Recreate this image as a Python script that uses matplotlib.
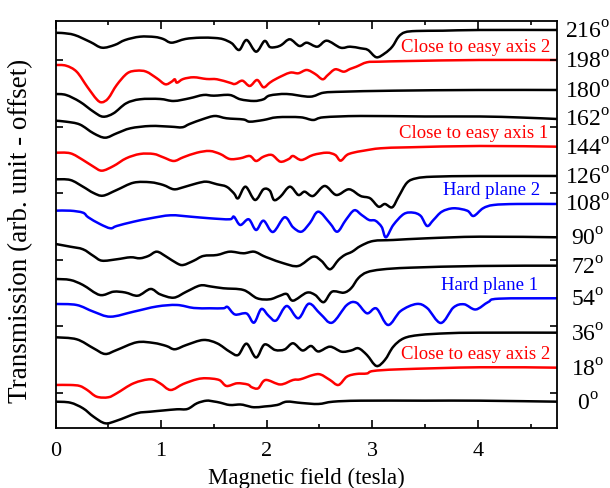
import matplotlib
matplotlib.use("Agg")
import matplotlib.pyplot as plt
from matplotlib.path import Path
from matplotlib.patches import PathPatch
from matplotlib.ticker import MultipleLocator, NullFormatter

plt.rcParams['font.family'] = ['Liberation Serif', 'DejaVu Serif']
plt.rcParams['mathtext.fontset'] = 'custom'
plt.rcParams['mathtext.rm'] = 'Liberation Serif'

# ---------------- data (field in tesla, transmission offset in arb. units) ----------------
angles = [0, 18, 36, 54, 72, 90, 108, 126, 144, 162, 180, 198, 216]
colors = ['black', 'red', 'black', 'blue', 'black', 'black', 'blue',
          'black', 'red', 'black', 'black', 'red', 'black']
offsets = [26, 60, 95, 130, 162, 191, 225, 252, 281, 310, 338, 368, 398]

B0 = [0, 0.14, 0.26, 0.36, 0.47, 0.58, 0.77, 0.90, 1.02, 1.15, 1.25, 1.34, 1.43, 1.50, 1.56,
      1.65, 1.75, 1.80, 1.88, 1.98, 2.10, 2.19, 2.33, 2.49, 2.63, 2.89, 3.5, 4.02, 4.75]
T0 = [0.3, -0.7, -6.3, -14.7, -21.3, -18.7, -11.3, -9.7, -8.5, -7.3, -7, -1.3, 1.3, 0.5, -0.7,
      -3, -2.5, -3.5, -5.3, -4.5, -3, 0.3, -1, -2, 0.3, 1.3, 1.3, 1.3, 0.3]

B18 = [0, 0.14, 0.23, 0.30, 0.39, 0.50, 0.58, 0.74, 0.90, 0.99, 1.09, 1.21, 1.34, 1.43, 1.55,
       1.62, 1.72, 1.82, 1.86, 1.92, 1.99, 2.13, 2.25, 2.32, 2.44, 2.51, 2.60, 2.68, 2.76, 2.85,
       2.95, 3.01, 3.27, 4.02, 4.75]
T18 = [-17, -17, -18, -22, -28.7, -29.3, -25.3, -15.3, -11.3, -15.3, -22, -16, -11.3, -10.3, -12,
       -18, -15.3, -16.5, -19.3, -20.3, -12, -16.5, -12, -11.3, -7, -6.5, -12, -17, -8.7, -6,
       -5.5, -3, -1.3, 0.7, 0.3]

B36 = [0, 0.20, 0.36, 0.47, 0.58, 0.77, 0.93, 1.05, 1.13, 1.24, 1.40, 1.53, 1.65, 1.73, 1.81,
       1.90, 1.98, 2.08, 2.17, 2.25, 2.34, 2.42, 2.49, 2.60, 2.71, 2.80, 2.87, 2.95, 3.04, 3.12,
       3.20, 3.30, 3.45, 3.71, 4.02, 4.75]
T36 = [-4.3, -6.3, -15.3, -21, -17, -9.3, -10, -13, -16.3, -12, -7, -10.3, -18.7, -22, -10.7,
       -24.5, -11.5, -17, -16.5, -10.3, -17.5, -13, -18.5, -13.7, -18.7, -17.5, -15.3, -22, -33, -27,
       -13.7, -5.3, -2, -0.3, 0.3, 0.3]

B54 = [0, 0.20, 0.36, 0.52, 0.74, 0.96, 1.15, 1.31, 1.46, 1.59, 1.63, 1.70, 1.81, 1.88, 1.95,
       2.02, 2.09, 2.19, 2.30, 2.40, 2.51, 2.62, 2.76, 2.85, 2.95, 3.04, 3.15, 3.27, 3.42, 3.52,
       3.65, 3.77, 3.87, 3.98, 4.10, 4.20, 4.75]
T54 = [-6, -7, -13.7, -18.7, -13.7, -8.5, -7, -10, -10.3, -10.3, -9, -16.5, -15.5, -24.7, -11,
       -18, -22.5, -8, -20.3, -5.7, -16, -24.7, -7, -4.7, -15.3, -10.5, -27, -13, -6, -10,
       -25, -9.5, -6.3, -11.5, -4, -0.7, -0.3]

B72 = [0, 0.14, 0.26, 0.42, 0.55, 0.66, 0.78, 0.90, 0.99, 1.12, 1.24, 1.37, 1.47, 1.59, 1.78,
       1.91, 2.03, 2.12, 2.19, 2.25, 2.38, 2.46, 2.54, 2.62, 2.73, 2.80, 2.87, 2.95, 3.09, 3.36,
       4.02, 4.75]
T72 = [-13, -14, -19, -29, -25.7, -26.5, -29.7, -23, -28.3, -31.7, -25.7, -19.5, -20.5, -22.3, -24,
       -32.3, -33.3, -30, -28, -34.7, -26.7, -29, -36.2, -25.7, -26.7, -22.3, -12, -6.3, -3.5, -1.7,
       0, 0.3]

B90 = [0, 0.14, 0.26, 0.36, 0.44, 0.58, 0.71, 0.80, 0.88, 0.96, 1.05, 1.15, 1.21, 1.31, 1.40,
       1.53, 1.65, 1.78, 1.88, 1.97, 2.03, 2.16, 2.30, 2.44, 2.52, 2.60, 2.68, 2.74, 2.81, 2.89,
       3.01, 3.2, 3.52, 4.02, 4.75]
T90 = [-7, -9.7, -12.3, -19, -23.7, -22.3, -20.3, -21.3, -19, -14.7, -19.7, -26.3, -28, -23.7, -19,
       -18, -14.7, -16.3, -14.7, -19, -21.5, -26.3, -29, -19.7, -24, -32.3, -23, -18, -14.7, -9,
       -4, -3, -1.3, 0.3, -0.3]

B108 = [0, 0.14, 0.26, 0.31, 0.42, 0.52, 0.58, 0.74, 0.90, 1.09, 1.28, 1.46, 1.65, 1.69, 1.75,
        1.83, 1.90, 1.97, 2.06, 2.17, 2.25, 2.33, 2.41, 2.49, 2.60, 2.67, 2.75, 2.83, 2.90, 2.97,
        3.03, 3.09, 3.13, 3.20, 3.30, 3.39, 3.46, 3.52, 3.58, 3.66, 3.77, 3.90, 3.96, 4.05, 4.15,
        4.37, 4.75]
T108 = [-7.7, -7.7, -9.7, -14.3, -21, -25.3, -23, -18.7, -15.3, -12.3, -13.7, -15.3, -16.3, -13.7, -22,
        -16.3, -27, -17.7, -29, -14.3, -24.3, -28.7, -20, -8.7, -20.3, -28.7, -17, -7.3, -12, -17,
        -17.7, -24, -34.3, -22, -11, -9.7, -13, -23, -17, -8.7, -5.3, -7.7, -13, -5.3, -2,
        -1, -1]

B126 = [0, 0.14, 0.26, 0.36, 0.45, 0.58, 0.74, 0.90, 1.02, 1.12, 1.21, 1.34, 1.43, 1.53, 1.62,
        1.69, 1.73, 1.80, 1.89, 1.97, 2.03, 2.07, 2.13, 2.22, 2.30, 2.36, 2.44, 2.55, 2.66, 2.78,
        2.89, 2.98, 3.06, 3.12, 3.19, 3.25, 3.33, 3.42, 3.58, 4.02, 4.75]
T126 = [-3.3, -4, -10.7, -17, -19.7, -14, -6.7, -6.3, -9, -13.3, -11.3, -7.3, -5.7, -8.3, -10.7,
        -17.3, -22.3, -10.7, -24, -13.3, -14.7, -24, -20.7, -10.7, -19, -15.7, -20, -10, -19, -13.3,
        -20, -22.3, -30.7, -28, -31.3, -20.7, -6.7, -2.3, -0.7, 0, 0]

B144 = [0, 0.14, 0.26, 0.36, 0.44, 0.55, 0.67, 0.80, 0.93, 1.02, 1.12, 1.21, 1.34, 1.46, 1.56,
        1.65, 1.75, 1.84, 1.90, 1.97, 2.05, 2.13, 2.21, 2.25, 2.33, 2.44, 2.57, 2.65, 2.70, 2.76,
        2.82, 2.92, 3.08, 3.36, 4.02, 4.75]
T144 = [-5.7, -6.3, -13, -19.7, -23.7, -19, -11.3, -7, -7, -10.3, -14, -10.3, -5.7, -4, -7,
        -12, -11.3, -9, -14, -9.7, -8, -14.7, -12, -9, -13, -8, -5.7, -8, -13.7, -8,
        -5.7, -3.7, -1.3, -0.3, 1, 0.3]

B162 = [0, 0.10, 0.23, 0.36, 0.47, 0.58, 0.71, 0.90, 1.09, 1.20, 1.27, 1.40, 1.51, 1.62, 1.78,
        1.84, 1.97, 2.10, 2.32, 2.44, 2.54, 2.89, 3.5, 4.02, 4.4, 4.75]
T162 = [-2.7, -3.7, -6.5, -15.3, -19.7, -15.3, -10.3, -8, -8.7, -9.3, -6, -1, 2, -0.3, -1.5,
        -3.7, -2, 0.7, 0.7, -2, 0.7, 2, 1.5, 1.5, 0.5, -1]

B180 = [0, 0.10, 0.23, 0.36, 0.45, 0.55, 0.67, 0.80, 0.99, 1.12, 1.27, 1.40, 1.50, 1.65, 1.75,
        1.88, 1.97, 2.03, 2.19, 2.41, 2.54, 2.73, 3.2, 4.0, 4.75]
T180 = [-4, -5, -11.7, -21.7, -26.7, -23.3, -13.3, -9.3, -9, -11, -8.3, -5, -5.7, -5, -9.3,
        -11, -9.3, -5.5, -4, -6.7, -2.7, -1.7, -0.7, 0, 0]

B198 = [0, 0.10, 0.20, 0.30, 0.39, 0.44, 0.50, 0.58, 0.68, 0.77, 0.86, 0.96, 1.04, 1.10, 1.13,
        1.15, 1.21, 1.31, 1.43, 1.53, 1.65, 1.70, 1.77, 1.84, 1.91, 1.97, 2.03, 2.10, 2.22, 2.30,
        2.38, 2.46, 2.53, 2.58, 2.65, 2.73, 2.79, 2.85, 2.95, 3.07, 3.36, 4.02, 4.75]
T198 = [-5, -5.7, -11.7, -26.7, -39.3, -42.3, -38.3, -25, -13.3, -10.7, -11.7, -18.3, -24.3, -21.7, -19.3,
        -22.7, -19, -17.3, -19, -19.3, -22.7, -24, -20.7, -26, -20, -27.3, -22.7, -18.3, -12.7, -13.3,
        -10, -14, -19.3, -15, -9.3, -11.7, -9, -6.7, -2.3, -1.7, -1, 0, 0]

B216 = [0, 0.06, 0.18, 0.33, 0.44, 0.56, 0.66, 0.80, 0.94, 1.02, 1.10, 1.23, 1.37, 1.51, 1.59,
        1.67, 1.74, 1.81, 1.90, 1.98, 2.03, 2.09, 2.14, 2.22, 2.31, 2.38, 2.48, 2.57, 2.70, 2.79,
        2.89, 2.96, 3.04, 3.12, 3.19, 3.25, 3.31, 3.42, 3.67, 4.02, 4.75]
T216 = [-3, -3, -5, -12, -17.7, -15, -10, -6.7, -7, -9, -12.7, -9, -7.7, -8, -9.3,
        -13.3, -20, -10, -21.7, -11, -17, -17, -15, -9.3, -16, -12.7, -16.7, -10.7, -17.7, -16.7,
        -18.3, -20, -27.3, -23.3, -16.7, -6.7, -2.3, -1, -0.7, 0, 0]

fields = [B0, B18, B36, B54, B72, B90, B108, B126, B144, B162, B180, B198, B216]
trans = [T0, T18, T36, T54, T72, T90, T108, T126, T144, T162, T180, T198, T216]

annotations = [
    ("Close to easy axis 2", 4.69, 380, 'red'),
    ("Close to easy axis 1", 4.67, 294, 'red'),
    ("Hard plane 2", 4.59, 237, 'blue'),
    ("Hard plane 1", 4.57, 142, 'blue'),
    ("Close to easy axis 2", 4.69, 73, 'red'),
]


def smooth_path(xs, ys):
    """Smooth (Catmull-Rom style Bezier) path through the measured points."""
    pts = list(zip(xs, ys))
    n = len(pts)
    verts = [pts[0]]
    codes = [Path.MOVETO]
    for i in range(n - 1):
        p0 = pts[max(i - 1, 0)]
        p1 = pts[i]
        p2 = pts[i + 1]
        p3 = pts[min(i + 2, n - 1)]
        c1 = (p1[0] + (p2[0] - p0[0]) / 6.0, p1[1] + (p2[1] - p0[1]) / 6.0)
        c2 = (p2[0] - (p3[0] - p1[0]) / 6.0, p2[1] - (p3[1] - p1[1]) / 6.0)
        verts += [c1, c2, p2]
        codes += [Path.CURVE4] * 3
    return Path(verts, codes)


# ---------------- figure ----------------
fig = plt.figure(figsize=(6.1, 4.88), dpi=100)
ax = fig.add_axes([0.091, 0.123, 0.822, 0.834])

for b, t, off, c in zip(fields, trans, offsets, colors):
    ys = [off + v for v in t]
    patch = PathPatch(smooth_path(b, ys), facecolor='none', edgecolor=c, lw=1.8,
                      joinstyle='round', capstyle='round')
    ax.add_patch(patch)

for txt, x, y, c in annotations:
    ax.text(x, y, txt, color=c, fontsize=13.5, ha='right', va='center')

for ang, off in zip(angles, offsets):
    ax.annotate(f"{ang}$^{{\\mathrm{{o}}}}$", xy=(1.062, off), xycoords=('axes fraction', 'data'),
                xytext=(0, -6), textcoords='offset points',
                ha='center', va='baseline', fontsize=17, annotation_clip=False)

ax.set_xlim(0, 4.75)
ax.set_ylim(0, 407)
ax.xaxis.set_major_locator(MultipleLocator(1))
ax.xaxis.set_minor_locator(MultipleLocator(0.5))
ax.set_yticks([35, 101.6, 168.2, 234.8, 301.4, 368])
ax.yaxis.set_major_formatter(NullFormatter())
ax.tick_params(axis='x', which='major', direction='in', length=5.5, width=1.2,
               top=True, labelsize=16, pad=10)
ax.tick_params(axis='x', which='minor', direction='in', length=3, width=1.2, top=True)
ax.tick_params(axis='y', which='major', direction='in', length=5, width=1.2, right=True)
for s in ax.spines.values():
    s.set_linewidth(1.3)

ax.set_xlabel("Magnetic field (tesla)", fontsize=16.5, labelpad=5)
ax.set_ylabel("Transmission (arb. unit - offset)", fontsize=19.5)
ax.yaxis.set_label_coords(-0.045, 0.485)

fig.savefig("out.png", dpi=100)
